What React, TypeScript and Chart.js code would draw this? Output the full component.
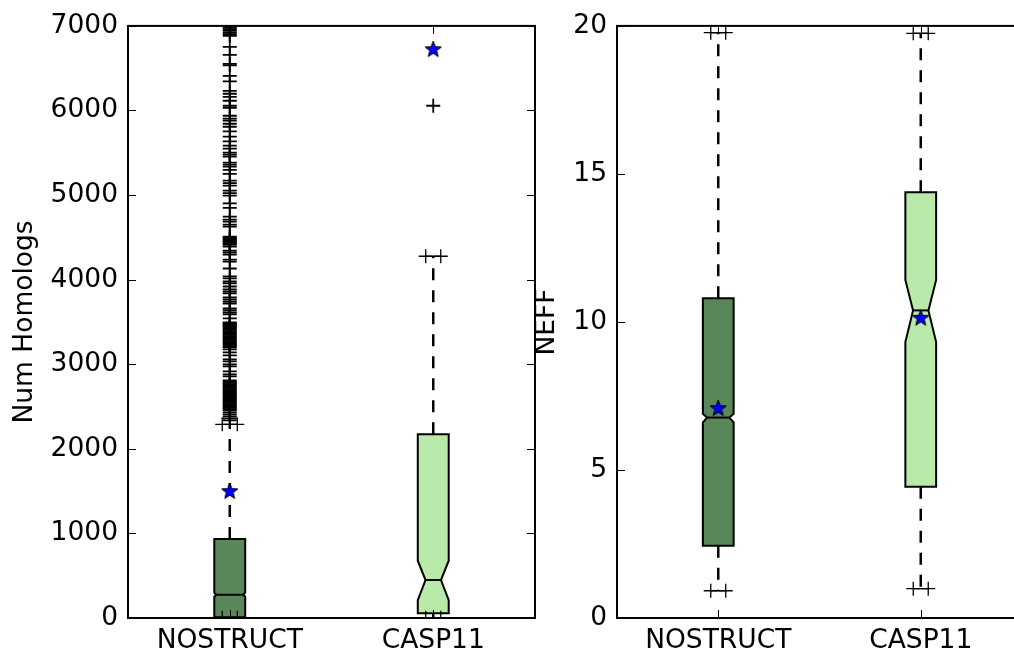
import React, { useEffect, useRef } from 'react';
import { Chart, registerables } from 'chart.js';
Chart.register(...registerables);

// ---------- shared ----------
const categories = ['NOSTRUCT', 'CASP11'];
const boxPositions = [1, 2];
const boxColors = ['#5a8759', '#b9eaa9'];

// ---------- left panel: Num Homologs ----------
const homologTicks = [0, 1000, 2000, 3000, 4000, 5000, 6000, 7000];
const homologQ1 = [8, 57];
const homologMedian = [275, 449];
const homologQ3 = [933, 2172];
const homologNotchLow = [252, 212];
const homologNotchHigh = [299, 677];
const homologWhiskerLow = [4, 4];
const homologWhiskerHigh = [2290, 4277];
const homologMean = [1500, 6725];
const homologOutliersNostruct = [
  6980, 6961, 6941, 6921, 6902, 6882, 6752, 6658, 6552, 6534, 6410, 6343, 6233, 6198, 6162,
  6115, 6056, 6032, 5938, 5903, 5879, 5843, 5808, 5753, 5690, 5635, 5584, 5548, 5501, 5478,
  5454, 5383, 5360, 5336, 5297, 5250, 5171, 5141, 5112, 5052, 5023, 4994, 4903, 4848, 4745,
  4710, 4687, 4651, 4628, 4509, 4497, 4486, 4474, 4462, 4450, 4439, 4427, 4415, 4392, 4344,
  4321, 4297, 4238, 4214, 4132, 4038, 4014, 3978, 3955, 3919, 3884, 3860, 3837, 3790, 3766,
  3742, 3718, 3659, 3636, 3612, 3589, 3542, 3494, 3482, 3471, 3465, 3450, 3435, 3420, 3406,
  3391, 3376, 3361, 3347, 3332, 3317, 3303, 3288, 3273, 3258, 3244, 3229, 3214, 3199, 3175,
  3140, 3105, 3057, 3034, 2998, 2975, 2916, 2880, 2857, 2810, 2795, 2780, 2766, 2751, 2736,
  2721, 2707, 2692, 2677, 2662, 2648, 2633, 2618, 2603, 2589, 2574, 2559, 2544, 2529, 2514,
  2500, 2485, 2470, 2455, 2432, 2408, 2384, 2361, 2337,
];
const homologOutliersCasp11 = [6056];

// ---------- right panel: NEFF ----------
const neffTicks = [0, 5, 10, 15, 20];
const neffQ1 = [2.44, 4.43];
const neffMedian = [6.77, 10.39];
const neffQ3 = [10.8, 14.38];
const neffNotchLow = [6.61, 9.32];
const neffNotchHigh = [6.9, 11.42];
const neffWhiskerLow = [0.92, 0.99];
const neffWhiskerHigh = [19.77, 19.75];
const neffMean = [7.09, 10.14];
const neffOutliersNostruct: number[] = [];
const neffOutliersCasp11: number[] = [];

// ---------- styling ----------
const FONT = "'DejaVu Sans', 'Liberation Sans', sans-serif";
const FONT_SIZE = 26.5;
const BOX_HALF = 0.076; // half box width in category units
const CAP_HALF = 0.037;

function makeStar(): HTMLCanvasElement {
  const c = document.createElement('canvas');
  c.width = 22;
  c.height = 22;
  const g = c.getContext('2d')!;
  const R = 8.5, r = 3.6, cx = 11, cy = 11.5;
  g.beginPath();
  for (let i = 0; i < 10; i++) {
    const ang = -Math.PI / 2 + (i * Math.PI) / 5;
    const rad = i % 2 === 0 ? R : r;
    const px = cx + rad * Math.cos(ang);
    const py = cy + rad * Math.sin(ang);
    if (i === 0) g.moveTo(px, py);
    else g.lineTo(px, py);
  }
  g.closePath();
  g.fillStyle = '#0000ff';
  g.fill();
  g.lineWidth = 1;
  g.strokeStyle = '#000';
  g.stroke();
  return c;
}

type Spec = {
  q1: number[]; median: number[]; q3: number[];
  notchLow: number[]; notchHigh: number[];
  whiskerLow: number[]; whiskerHigh: number[];
  mean: number[]; outliers: number[][];
  ticks: number[]; yMax: number; title: string;
  axisWidth: number; titlePad: number; rightPad: number;
};

const boxPlugin = {
  id: 'notchedBoxes',
  beforeDatasetsDraw(chart: any, _a: any, opts: any) {
    const s: Spec = opts.spec;
    const ctx = chart.ctx;
    const xs = chart.scales.x;
    const ys = chart.scales.y;
    const area = chart.chartArea;
    ctx.save();
    ctx.beginPath();
    ctx.rect(area.left, area.top, area.right - area.left, area.bottom - area.top);
    ctx.clip();
    const line = (x1: number, y1: number, x2: number, y2: number) => {
      ctx.beginPath();
      ctx.moveTo(x1, y1);
      ctx.lineTo(x2, y2);
      ctx.stroke();
    };
    s.q1.forEach((_v, i) => {
      const pos = boxPositions[i];
      const xc = xs.getPixelForValue(pos);
      const xl = xs.getPixelForValue(pos - BOX_HALF);
      const xr = xs.getPixelForValue(pos + BOX_HALF);
      const cl = xs.getPixelForValue(pos - CAP_HALF);
      const cr = xs.getPixelForValue(pos + CAP_HALF);
      const yq1 = ys.getPixelForValue(s.q1[i]);
      const yq3 = ys.getPixelForValue(s.q3[i]);
      const ym = ys.getPixelForValue(s.median[i]);
      const ynl = ys.getPixelForValue(s.notchLow[i]);
      const ynh = ys.getPixelForValue(s.notchHigh[i]);
      const ywl = ys.getPixelForValue(s.whiskerLow[i]);
      const ywh = ys.getPixelForValue(s.whiskerHigh[i]);
      const halfW = (xr - xl) / 2;
      const inset = Math.min(halfW / 2, Math.abs(ynl - ynh) / 2);

      ctx.strokeStyle = '#000';
      // whiskers
      ctx.lineWidth = 2.5;
      ctx.setLineDash([12, 10]);
      line(xc, yq3, xc, ywh);
      line(xc, yq1, xc, ywl);
      ctx.setLineDash([]);
      // caps
      ctx.lineWidth = 1.3;
      line(cl, ywh, cr, ywh);
      line(cl, ywl, cr, ywl);
      // notched box
      ctx.beginPath();
      ctx.moveTo(xl, yq1);
      ctx.lineTo(xr, yq1);
      ctx.lineTo(xr, ynl);
      ctx.lineTo(xr - inset, ym);
      ctx.lineTo(xr, ynh);
      ctx.lineTo(xr, yq3);
      ctx.lineTo(xl, yq3);
      ctx.lineTo(xl, ynh);
      ctx.lineTo(xl + inset, ym);
      ctx.lineTo(xl, ynl);
      ctx.closePath();
      ctx.fillStyle = boxColors[i];
      ctx.fill();
      ctx.lineWidth = 2;
      ctx.lineJoin = 'miter';
      ctx.stroke();
      // median
      line(xl + inset, ym, xr - inset, ym);
    });
    ctx.restore();
  },
  afterDraw(chart: any) {
    const ctx = chart.ctx;
    const a = chart.chartArea;
    const xs = chart.scales.x;
    const ys = chart.scales.y;
    ctx.save();
    ctx.strokeStyle = '#000';
    ctx.lineWidth = 1;
    const TL = 8;
    ys.ticks.forEach((t: any) => {
      const y = Math.round(ys.getPixelForValue(t.value)) + 0.5;
      ctx.beginPath();
      ctx.moveTo(a.left, y); ctx.lineTo(a.left + TL, y);
      ctx.moveTo(a.right, y); ctx.lineTo(a.right - TL, y);
      ctx.stroke();
    });
    xs.ticks.forEach((t: any) => {
      const x = Math.round(xs.getPixelForValue(t.value)) + 0.5;
      ctx.beginPath();
      ctx.moveTo(x, a.bottom); ctx.lineTo(x, a.bottom - TL);
      ctx.moveTo(x, a.top); ctx.lineTo(x, a.top + TL);
      ctx.stroke();
    });
    ctx.lineWidth = 2;
    ctx.strokeRect(a.left, a.top, a.right - a.left, a.bottom - a.top);
    ctx.restore();
  },
};

function buildChart(canvas: HTMLCanvasElement, s: Spec, star: HTMLCanvasElement) {
  const outlierPts: { x: number; y: number }[] = [];
  s.outliers.forEach((arr, i) => arr.forEach((v) => outlierPts.push({ x: boxPositions[i], y: v })));
  const capPts: { x: number; y: number }[] = [];
  boxPositions.forEach((p, i) => {
    [s.whiskerLow[i], s.whiskerHigh[i]].forEach((v) => {
      capPts.push({ x: p - CAP_HALF, y: v });
      capPts.push({ x: p + CAP_HALF, y: v });
    });
  });
  const meanPts = boxPositions.map((p, i) => ({ x: p, y: s.mean[i] }));

  return new Chart(canvas, {
    type: 'scatter',
    data: {
      datasets: [
        {
          label: 'mean',
          data: meanPts,
          pointStyle: star as any,
          pointRadius: 8,
          clip: 0 as any,
        },
        {
          label: 'caps',
          data: capPts,
          pointStyle: 'cross',
          pointRadius: 7,
          borderColor: '#000',
          borderWidth: 1.3,
          clip: 0 as any,
        },
        {
          label: 'outliers',
          data: outlierPts,
          pointStyle: 'cross',
          pointRadius: 7,
          borderColor: '#000',
          borderWidth: 1.8,
          clip: 0 as any,
        },
      ],
    },
    options: {
      responsive: false,
      animation: false,
      events: [],
      layout: { padding: { left: 0, top: 25, right: s.rightPad, bottom: 0 } },
      plugins: {
        legend: { display: false },
        tooltip: { enabled: false },
        notchedBoxes: { spec: s },
      } as any,
      scales: {
        x: {
          type: 'linear',
          min: 0.5,
          max: 2.5,
          grid: { display: false, drawTicks: false },
          border: { display: false },
          afterBuildTicks: (scale: any) => {
            scale.ticks = boxPositions.map((v) => ({ value: v }));
          },
          afterFit: (scale: any) => {
            scale.height = 36;
          },
          ticks: {
            padding: 7,
            color: '#000',
            font: { family: FONT, size: FONT_SIZE },
            maxRotation: 0,
            callback: (v: any) => categories[boxPositions.indexOf(Number(v))] ?? '',
          },
        },
        y: {
          type: 'linear',
          min: 0,
          max: s.yMax,
          grid: { display: false, drawTicks: false },
          border: { display: false },
          afterBuildTicks: (scale: any) => {
            scale.ticks = s.ticks.map((v) => ({ value: v }));
          },
          afterFit: (scale: any) => {
            scale.width = s.axisWidth;
          },
          ticks: {
            padding: 10,
            color: '#000',
            font: { family: FONT, size: FONT_SIZE },
            callback: (v: any) => String(v),
          },
          title: {
            display: true,
            text: s.title,
            color: '#000',
            font: { family: FONT, size: FONT_SIZE },
            padding: { top: s.titlePad, bottom: 0 },
          },
        },
      },
    },
    plugins: [boxPlugin],
  });
}

export default function App() {
  const leftRef = useRef<HTMLCanvasElement>(null);
  const rightRef = useRef<HTMLCanvasElement>(null);

  useEffect(() => {
    const star = makeStar();
    const left = buildChart(
      leftRef.current!,
      {
        q1: homologQ1, median: homologMedian, q3: homologQ3,
        notchLow: homologNotchLow, notchHigh: homologNotchHigh,
        whiskerLow: homologWhiskerLow, whiskerHigh: homologWhiskerHigh,
        mean: homologMean, outliers: [homologOutliersNostruct, homologOutliersCasp11],
        ticks: homologTicks, yMax: 7000, title: 'Num Homologs',
        axisWidth: 128, titlePad: 9, rightPad: 25,
      },
      star
    );
    const right = buildChart(
      rightRef.current!,
      {
        q1: neffQ1, median: neffMedian, q3: neffQ3,
        notchLow: neffNotchLow, notchHigh: neffNotchHigh,
        whiskerLow: neffWhiskerLow, whiskerHigh: neffWhiskerHigh,
        mean: neffMean, outliers: [neffOutliersNostruct, neffOutliersCasp11],
        ticks: neffTicks, yMax: 20, title: 'NEFF',
        axisWidth: 87, titlePad: 1, rightPad: 28,
      },
      star
    );
    return () => {
      left.destroy();
      right.destroy();
    };
  }, []);

  return (
    <div
      style={{
        position: 'fixed',
        left: 0,
        top: 0,
        width: 1014,
        height: 654,
        overflow: 'hidden',
        background: '#fff',
      }}
    >
      <canvas
        ref={leftRef}
        width={560}
        height={654}
        style={{ position: 'absolute', left: 0, top: 0, width: 560, height: 654 }}
      />
      <canvas
        ref={rightRef}
        width={520}
        height={654}
        style={{ position: 'absolute', left: 530, top: 0, width: 520, height: 654 }}
      />
    </div>
  );
}
